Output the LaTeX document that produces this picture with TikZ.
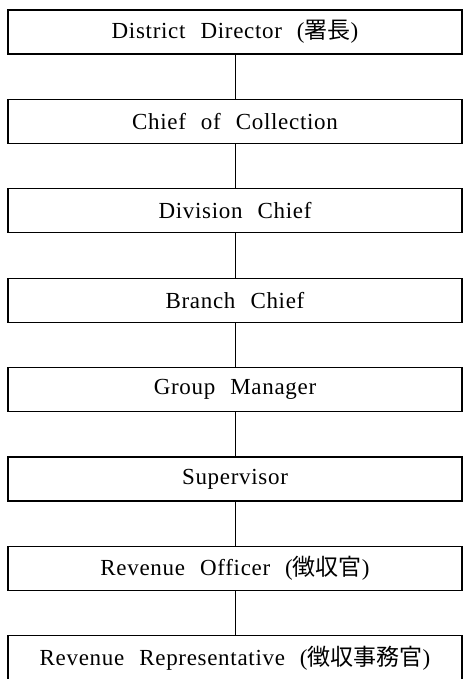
\documentclass[tikz,border=0pt]{standalone}
\usepackage{fontspec}
\usepackage{tikz}
\usetikzlibrary{positioning}
\setmainfont{Liberation Serif}[LetterSpace=3]
\newfontfamily\jpfont[Scale=1.0]{Noto Sans CJK JP}
\newcommand\postfont{\fontsize{23}{27}\selectfont}

\begin{document}
\begin{tikzpicture}[
    x=1pt, y=-1pt,
    node distance=45.4pt,
    post/.style={rectangle, draw=black, line width=1.3pt, minimum width=454pt, minimum height=44pt, inner sep=0pt, outer sep=0pt, align=center, font=\postfont, execute at begin node={\spaceskip=15pt plus 2pt\relax}},
    link/.style={line width=0.9pt}
]
\useasboundingbox (0,0) rectangle (463,679);

\node[post] (district) at (235,32) {District Director ({\jpfont 署長})};
\node[post, below=of district] (collection) {Chief of Collection};
\node[post, below=of collection] (division) {Division Chief};
\node[post, below=of division] (branch) {Branch Chief};
\node[post, below=of branch] (group) {Group Manager};
\node[post, below=of group] (supervisor) {Supervisor};
\node[post, below=of supervisor] (officer) {Revenue Officer ({\jpfont 徴収官})};
\node[post, below=of officer] (representative) {Revenue Representative ({\jpfont 徴収事務官})};

\draw[link] (district) -- (collection);
\draw[link] (collection) -- (division);
\draw[link] (division) -- (branch);
\draw[link] (branch) -- (group);
\draw[link] (group) -- (supervisor);
\draw[link] (supervisor) -- (officer);
\draw[link] (officer) -- (representative);

\end{tikzpicture}
\end{document}
